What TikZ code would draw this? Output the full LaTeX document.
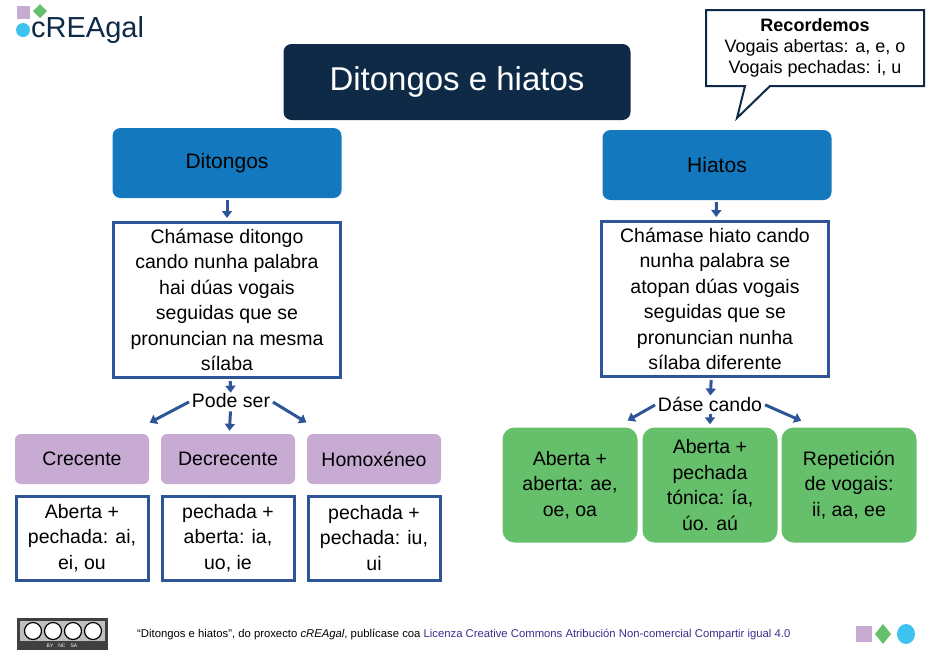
\documentclass[tikz,border=0pt]{standalone}
\usepackage{fontspec}
\setmainfont{Liberation Sans}
\usetikzlibrary{arrows.meta,shapes.geometric}
\definecolor{navy}{HTML}{0E2A47}
\definecolor{bblue}{HTML}{1478BE}
\definecolor{bord}{HTML}{2E5597}
\definecolor{lil}{HTML}{C8ABD3}
\definecolor{grn}{HTML}{66BF6A}
\definecolor{cyan}{HTML}{3EC3F0}
\definecolor{lic}{HTML}{3B2E8C}
\begin{document}
\begin{tikzpicture}[x=1pt,y=-1pt,
 txt/.style={font=\fontsize{19.5}{25.5}\selectfont,align=center,text=black},
 head/.style={draw=none,fill=bblue,rounded corners=8pt,txt,font=\fontsize{21}{25}\selectfont,minimum width=229pt,minimum height=70pt},
 tbox/.style={draw=bord,line width=3pt,fill=white,txt,minimum width=227pt,minimum height=155pt},
 pur/.style={fill=lil,rounded corners=6pt,txt,minimum width=134pt,minimum height=50pt},
 wb/.style={draw=bord,line width=3pt,txt,minimum width=132pt,minimum height=84pt},
 gb/.style={fill=grn,rounded corners=12pt,txt,minimum width=135pt,minimum height=115pt},
 arr/.style={draw=bord,line width=3pt,-{Triangle[length=7pt,width=10pt]},shorten <=2pt,shorten >=3pt}]
\useasboundingbox (0,0) rectangle (944,670);
% logo
\fill[lil] (17,6) rectangle (30,19);
\fill[grn] (40,4) -- (47,11) -- (40,18) -- (33,11) -- cycle;
\fill[cyan] (23,30) circle (7);
\node[anchor=west,text=navy,font=\fontsize{29}{29}\selectfont,inner sep=0pt] (logo) at (31,30) {cREAgal};
% title
\node[fill=navy,rounded corners=8pt,minimum width=347pt,minimum height=76pt,text=white,font=\fontsize{33}{33}\selectfont] (title) at (457,82) {Ditongos e hiatos};
% callout
\draw[navy,line width=2pt,fill=white] (706,10) -- (924,10) -- (924,86) -- (770,86) -- (737,118) -- (745,86) -- (706,86) -- cycle;
\node[txt,font=\fontsize{18}{21}\selectfont] (rec) at (815,48) {\textbf{Recordemos}\\Vogais abertas: a, e, o\\Vogais pechadas: i, u};
% heads
\node[head] (dit) at (227,163) {Ditongos};
\node[head] (hia) at (717,165) {Hiatos};
\node[tbox] (dt) at (227,300) {Chámase ditongo\\cando nunha palabra\\hai dúas vogais\\seguidas que se\\pronuncian na mesma\\sílaba};
\node[tbox] (ht) at (715,299) {Chámase hiato cando\\nunha palabra se\\atopan dúas vogais\\seguidas que se\\pronuncian nunha\\sílaba diferente};
\draw[arr] (dit) -- (dt);
\draw[arr] (hia) -- (ht);
\node[txt,inner sep=1pt] (pode) at (231,401) {Pode ser};
\node[txt,inner sep=1pt] (dase) at (710,404) {Dáse cando};
\draw[arr,shorten >=0pt] (dt) -- (pode);
\draw[arr,shorten >=0pt] (ht) -- (dase);
% purple
\node[pur] (c1) at (82,459) {Crecente};
\node[pur] (c2) at (228,459) {Decrecente};
\node[pur] (c3) at (374,459) {Homoxéneo};
\coordinate (p1) at (147,424);
\coordinate (p3) at (309,424);
\coordinate (q1) at (625,422);
\coordinate (q3) at (804,422);
\draw[arr] (pode.west) -- (p1);
\draw[arr] (pode) -- (c2);
\draw[arr] (pode.east) -- (p3);
\node[wb] (w1) at (82,538) {Aberta +\\pechada: ai,\\ei, ou};
\node[wb] (w2) at (228,538) {pechada +\\aberta: ia,\\uo, ie};
\node[wb] (w3) at (374,538) {pechada +\\pechada: iu,\\ui};
% green
\node[gb] (g1) at (570,485) {Aberta +\\aberta: ae,\\oe, oa};
\node[gb] (g2) at (710,485) {Aberta +\\pechada\\tónica: ía,\\úo. aú};
\node[gb] (g3) at (849,485) {Repetición\\de vogais:\\ii, aa, ee};
\draw[arr] (dase.west) -- (q1);
\draw[arr] (dase) -- (g2);
\draw[arr] (dase.east) -- (q3);
% footer
\fill[black!75] (17,618) rectangle (108,650);
\fill[gray!50] (20,621) rectangle (105,641);
\foreach \x in {33,53,73,93}{\draw[black,line width=1.2pt,fill=white] (\x,631) circle (8.5);}
\node[text=white,font=\fontsize{5}{5}\selectfont] (ccl) at (62,646) {BY\quad NC\quad SA};
\node[anchor=west,font=\fontsize{11.3}{12}\selectfont,inner sep=0pt] (foot) at (137,634) {“Ditongos e hiatos”, do proxecto \textit{cREAgal}, publícase coa \textcolor{lic}{Licenza Creative Commons Atribución Non-comercial Compartir igual 4.0}};
\fill[lil] (856,626) rectangle (872,642);
\fill[grn] (883,624) -- (891,634) -- (883,644) -- (875,634) -- cycle;
\fill[cyan] (906,634) ellipse (9 and 10);
\end{tikzpicture}
\end{document}
